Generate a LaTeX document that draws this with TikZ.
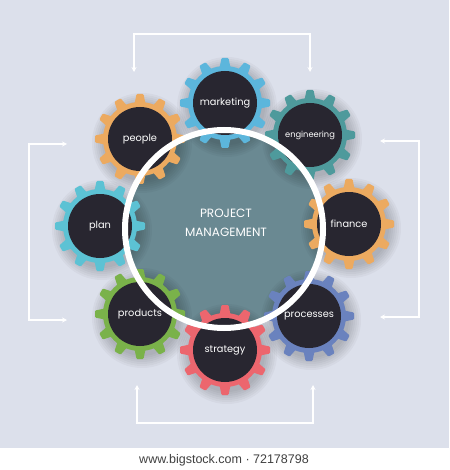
\documentclass[tikz,border=0pt]{standalone}
\usepackage{fontspec}
\setmainfont{Poppins}
\newfontfamily\stampfont{Liberation Sans}
\usetikzlibrary{arrows.meta}

\definecolor{bgcol}{RGB}{220,224,235}
\definecolor{diskcol}{RGB}{106,137,146}
\definecolor{hubdark}{RGB}{40,38,48}
\definecolor{gblue}{RGB}{92,182,220}
\definecolor{gteal}{RGB}{78,154,156}
\definecolor{gorange}{RGB}{236,170,96}
\definecolor{gslate}{RGB}{106,130,190}
\definecolor{gred}{RGB}{236,102,110}
\definecolor{ggreen}{RGB}{122,178,74}
\definecolor{gcyan}{RGB}{92,194,212}

\begin{document}
\begin{tikzpicture}[x=1pt,y=-1pt,
  hubstyle/.style={circle,fill=hubdark,minimum size=64pt,inner sep=0pt},
  labelstyle/.style={text=white,font=\fontsize{9.8}{11}\selectfont},
  loopstyle/.style={draw=white,line width=1.2pt,{Stealth[length=5pt,width=5pt]}-{Stealth[length=5pt,width=5pt]}}]

 \fill[bgcol] (0,0) rectangle (449,448);
 \fill[white] (0,448) rectangle (449,470);
 \useasboundingbox (0,0) rectangle (449,470);

 \fill[diskcol] (224,229) circle (99);

 \foreach \x/\y in {225/103,310/135,349/224,309/316,225/350,140/314,100/226,140/139}
   \foreach \r in {38,40,...,50}
     \fill[black,opacity=.03] (\x+2,\y+4) circle (\r);

 \foreach \x/\y/\c/\n in {225/103/gblue/marketing,310/135/gteal/engineering,
                          349/224/gorange/finance,309/316/gslate/processes,
                          225/350/gred/strategy,140/314/ggreen/products,
                          100/226/gcyan/plan,140/139/gorange/people}
   {\fill[\c] (\x,\y) circle (37);
    \foreach \a in {0,30,...,330}
      \fill[\c,shift={(\x,\y)},rotate=\a,rounded corners=1pt]
        (-5.5,35) -- (-3.5,45) -- (3.5,45) -- (5.5,35) -- cycle;
    \node[hubstyle] (\n) at (\x,\y) {};}

 \draw[white,line width=6pt] (224,229) circle (99);

 \foreach \n/\t in {marketing/marketing,engineering/{\fontsize{8.3}{10}\selectfont engineering},
                    finance/finance,processes/processes,strategy/strategy,
                    products/products,plan/plan,people/people}
   \node[labelstyle] (\n-lbl) at (\n) {\t};

 \node[text=white,align=center,font=\fontsize{12}{19}\selectfont] (title) at (226,223)
   {PROJECT\\MANAGEMENT};

 \coordinate (top-l) at (134,72);
 \coordinate (top-r) at (310,72);
 \coordinate (left-t) at (67,144);
 \coordinate (left-b) at (67,320);
 \coordinate (right-t) at (380,141);
 \coordinate (right-b) at (380,317);
 \coordinate (bot-l) at (137,385);
 \coordinate (bot-r) at (313,385);

 \draw[loopstyle] (top-l) -- ++(0,-38) -| (top-r);
 \draw[loopstyle] (left-t) -- ++(-38,0) |- (left-b);
 \draw[loopstyle] (right-t) -- ++(39,0) |- (right-b);
 \draw[loopstyle] (bot-l) -- ++(0,38) -| (bot-r);

 \node[text=black!75,font=\stampfont\fontsize{12.5}{14}\selectfont] (stamp) at (224,460)
   {www.bigstock.com · 72178798};
\end{tikzpicture}
\end{document}
